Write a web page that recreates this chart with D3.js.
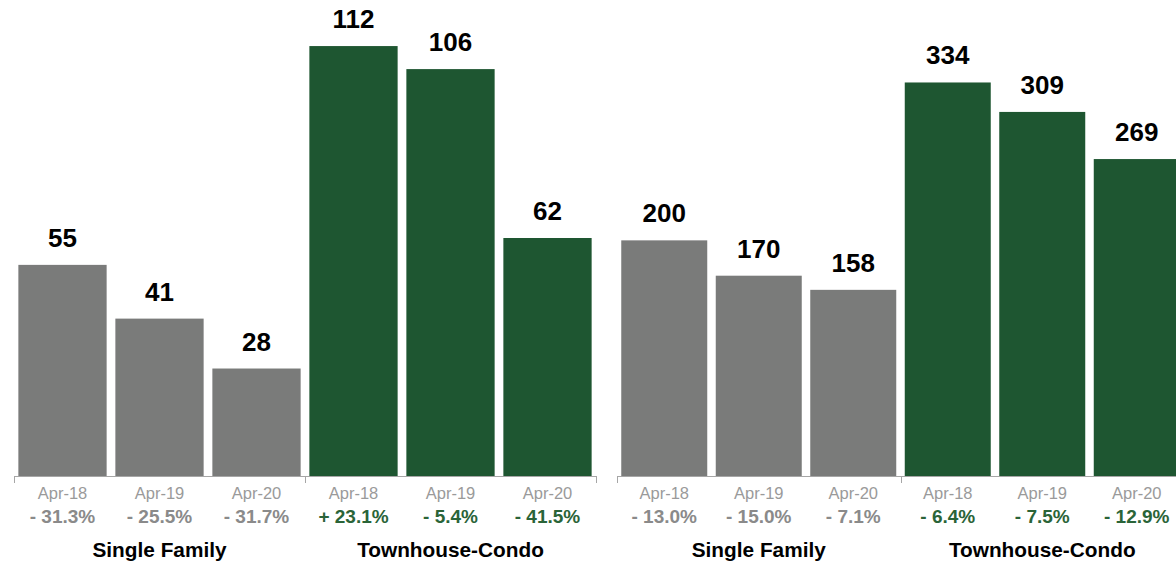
<!DOCTYPE html>
<html>
<head>
<meta charset="utf-8">
<script src="https://cdn.jsdelivr.net/npm/d3@7"></script>
<style>
  html, body { margin: 0; padding: 0; background: #fff; }
  svg { display: block; font-family: "Liberation Sans", Arial, Helvetica, sans-serif; }
</style>
</head>
<body>
<svg id="chart" width="1176" height="563"></svg>
<script>
// Periods and property types shared by both panels
const periods = ["Apr-18", "Apr-19", "Apr-20"];
const groups = ["Single Family", "Townhouse-Condo"];

// Left panel: counts and year-over-year change (%)
const leftSingle = [55, 41, 28];
const leftTownhouse = [112, 106, 62];
const leftSingleChange = [-31.3, -25.5, -31.7];
const leftTownhouseChange = [23.1, -5.4, -41.5];

// Right panel: counts and year-over-year change (%)
const rightSingle = [200, 170, 158];
const rightTownhouse = [334, 309, 269];
const rightSingleChange = [-13.0, -15.0, -7.1];
const rightTownhouseChange = [-6.4, -7.5, -12.9];

const colors = { "Single Family": "#7a7b7a", "Townhouse-Condo": "#1e5631" };
const changeColors = { "Single Family": "#8a8a8a", "Townhouse-Condo": "#2a6438" };

const panels = [
  { x0: 14, x1: 596, yMax: 124,
    series: [leftSingle, leftTownhouse], changes: [leftSingleChange, leftTownhouseChange] },
  { x0: 617, x1: 1184, yMax: 404,
    series: [rightSingle, rightTownhouse], changes: [rightSingleChange, rightTownhouseChange] }
];

const baseY = 476;
const svg = d3.select("#chart");
const fmtChange = v => (v >= 0 ? "+ " : "- ") + Math.abs(v).toFixed(1) + "%";

panels.forEach(p => {
  const g = svg.append("g");
  const xGroup = d3.scaleBand().domain(groups).range([p.x0, p.x1]).padding(0);
  const xPeriod = d3.scaleBand().domain(periods).range([0, xGroup.bandwidth()])
    .paddingInner(0.09).paddingOuter(0.045);
  const y = d3.scaleLinear().domain([0, p.yMax]).range([baseY, 0]);

  const rows = [];
  groups.forEach((grp, gi) => {
    periods.forEach((per, pi) => {
      rows.push({ grp, per, value: p.series[gi][pi], change: p.changes[gi][pi] });
    });
  });
  const cx = d => xGroup(d.grp) + xPeriod(d.per) + xPeriod.bandwidth() / 2;

  // bars
  g.selectAll("rect.bar").data(rows).join("rect")
    .attr("class", "bar")
    .attr("x", d => xGroup(d.grp) + xPeriod(d.per))
    .attr("width", xPeriod.bandwidth())
    .attr("y", d => y(d.value))
    .attr("height", d => baseY - y(d.value))
    .attr("fill", d => colors[d.grp]);

  // value labels
  g.selectAll("text.value").data(rows).join("text")
    .attr("class", "value")
    .attr("x", cx)
    .attr("y", d => y(d.value) - 18)
    .attr("text-anchor", "middle")
    .attr("font-size", 26)
    .attr("font-weight", "bold")
    .attr("fill", "#000")
    .text(d => d.value);

  // baseline with ticks at group boundaries
  g.append("line")
    .attr("x1", p.x0).attr("x2", p.x1)
    .attr("y1", baseY + 0.5).attr("y2", baseY + 0.5)
    .attr("stroke", "#a6a6a6").attr("stroke-width", 1);
  const tickXs = groups.map(grp => xGroup(grp)).concat([p.x1]);
  g.selectAll("line.tick").data(tickXs).join("line")
    .attr("class", "tick")
    .attr("x1", d => Math.round(d) + 0.5).attr("x2", d => Math.round(d) + 0.5)
    .attr("y1", baseY).attr("y2", baseY + 7)
    .attr("stroke", "#a6a6a6").attr("stroke-width", 1);

  // period labels
  g.selectAll("text.period").data(rows).join("text")
    .attr("class", "period")
    .attr("x", cx)
    .attr("y", 499)
    .attr("text-anchor", "middle")
    .attr("font-size", 16.5)
    .attr("fill", "#9a9a9a")
    .text(d => d.per);

  // change labels
  g.selectAll("text.change").data(rows).join("text")
    .attr("class", "change")
    .attr("x", cx)
    .attr("y", 523)
    .attr("text-anchor", "middle")
    .attr("font-size", 19)
    .attr("font-weight", "bold")
    .attr("fill", d => changeColors[d.grp])
    .text(d => fmtChange(d.change));

  // group labels
  g.selectAll("text.group").data(groups).join("text")
    .attr("class", "group")
    .attr("x", d => xGroup(d) + xGroup.bandwidth() / 2)
    .attr("y", 556.5)
    .attr("text-anchor", "middle")
    .attr("font-size", 20.8)
    .attr("font-weight", "bold")
    .attr("fill", "#000")
    .text(d => d);
});
</script>
</body>
</html>
